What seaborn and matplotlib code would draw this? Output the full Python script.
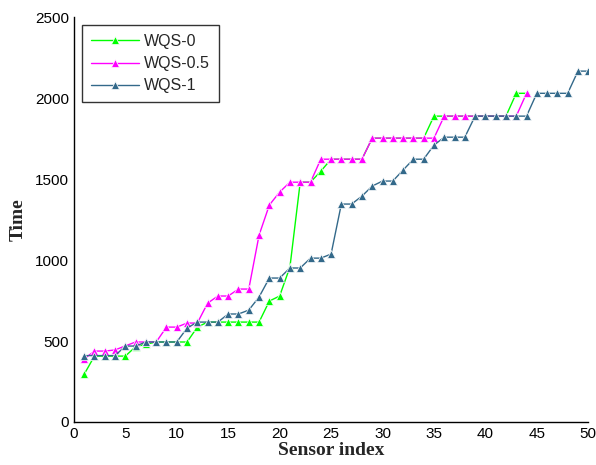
import numpy as np
import pandas as pd
import matplotlib
matplotlib.use("Agg")
import matplotlib.pyplot as plt
import seaborn as sns

# Sensor index (x) for each series
sensors_short = list(range(1, 45))
sensors_long = list(range(1, 51))

# Time values
wqs_0 = [295, 407, 407, 407, 407, 465, 480, 494, 494, 494,
         494, 586, 617, 617, 617, 617, 617, 617, 747, 778,
         957, 1481, 1481, 1549, 1623, 1623, 1623, 1623, 1753, 1753,
         1753, 1753, 1753, 1753, 1889, 1889, 1889, 1889, 1889, 1889,
         1889, 1889, 2030, 2030]
wqs_05 = [390, 438, 438, 445, 470, 494, 494, 494, 586, 586,
          611, 611, 734, 778, 778, 821, 821, 1154, 1340, 1420,
          1481, 1481, 1481, 1623, 1623, 1623, 1623, 1623, 1753, 1753,
          1753, 1753, 1753, 1753, 1753, 1889, 1889, 1889, 1889, 1889,
          1889, 1889, 1889, 2030]
wqs_1 = [410, 410, 410, 410, 469, 469, 494, 494, 494, 494,
         580, 617, 617, 617, 667, 667, 691, 772, 889, 889,
         951, 951, 1012, 1012, 1037, 1346, 1346, 1395, 1457, 1488,
         1488, 1556, 1623, 1623, 1710, 1759, 1759, 1759, 1889, 1889,
         1889, 1889, 1889, 1889, 2030, 2030, 2030, 2030, 2167, 2167]

df = pd.concat([
    pd.DataFrame({"sensor": sensors_short, "time": wqs_0, "method": "WQS-0"}),
    pd.DataFrame({"sensor": sensors_short, "time": wqs_05, "method": "WQS-0.5"}),
    pd.DataFrame({"sensor": sensors_long, "time": wqs_1, "method": "WQS-1"}),
])

sns.set_style("white")
plt.rcParams["font.family"] = ["Liberation Sans", "DejaVu Sans"]

palette = {"WQS-0": "#00ff00", "WQS-0.5": "#ff00ff", "WQS-1": "#33698a"}

fig = plt.figure(figsize=(5.96, 4.65), dpi=100)
ax = fig.add_axes([0.124, 0.0925, 0.863, 0.8705])

sns.lineplot(data=df, x="sensor", y="time", hue="method", palette=palette,
             marker="^", markersize=5.5, markeredgewidth=0.5, linewidth=1.0,
             ax=ax)

ax.set_xlim(0, 50)
ax.set_ylim(0, 2500)
ax.set_xticks(np.arange(0, 51, 5))
ax.set_yticks(np.arange(0, 2501, 500))
ax.tick_params(direction="in", length=4, width=1, labelsize=11, colors="black")
for side in ["top", "right"]:
    ax.spines[side].set_visible(False)
for side in ["left", "bottom"]:
    ax.spines[side].set_color("black")
    ax.spines[side].set_linewidth(1.0)

ax.set_xlabel("Sensor index", fontsize=14, fontweight="bold",
              family=["Liberation Serif", "DejaVu Serif"], labelpad=1)
ax.set_ylabel("Time", fontsize=14, fontweight="bold",
              family=["Liberation Serif", "DejaVu Serif"], labelpad=6)

# legend box sits near the top-left corner
leg = ax.legend(loc="upper left", bbox_to_anchor=(0.0156, 0.98), borderaxespad=0,
                fontsize=11.5, fancybox=False, frameon=True, edgecolor="black",
                handlelength=3.0, handletextpad=0.35, borderpad=0.55,
                labelspacing=0.45)
leg.get_frame().set_linewidth(1.0)
leg.set_title(None)

fig.savefig("out.png", dpi=100)
